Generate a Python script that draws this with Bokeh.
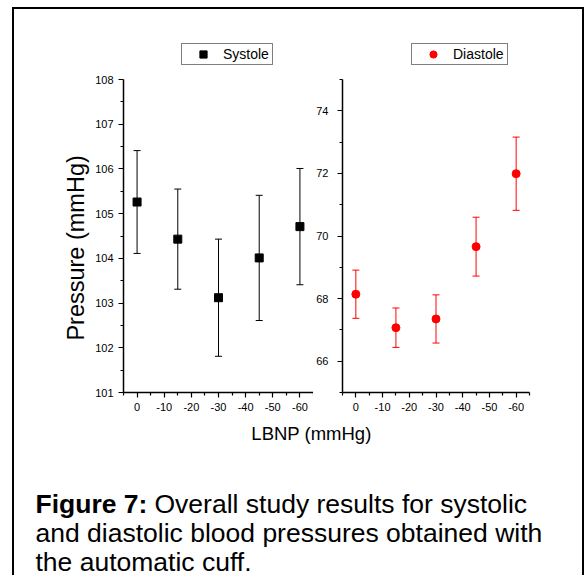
import math

from bokeh.plotting import figure
from bokeh.models import (Range1d, FixedTicker, Whisker, ColumnDataSource,
                          Legend, LegendItem, Label, TeeHead,
                          PrintfTickFormatter)
from bokeh.layouts import row, column
from bokeh.embed import file_html
from bokeh.resources import INLINE

# LBNP levels (mmHg) and blood pressure results (mean and error)
lbnp = [0, -15, -30, -45, -60]
systole_mean = [105.26, 104.43, 103.12, 104.01, 104.71]
systole_err = [1.15, 1.12, 1.31, 1.40, 1.30]
diastole_mean = [68.14, 67.07, 67.35, 69.66, 71.99]
diastole_err = [0.77, 0.63, 0.77, 0.94, 1.17]

# axis ticks
x_ticks = [0, -10, -20, -30, -40, -50, -60]
x_minor = [5, -5, -15, -25, -35, -45, -55, -65]
sys_ticks = [101, 102, 103, 104, 105, 106, 107, 108]
sys_minor = [101.5, 102.5, 103.5, 104.5, 105.5, 106.5, 107.5]
dia_ticks = [66, 68, 70, 72, 74]
dia_minor = [65, 67, 69, 71, 73, 75]

# axis extents
sys_lim = (101, 108)
dia_lim = (65, 75)
lbnp_lim = (5, -65)

FONT = "Liberation Sans"
AXIS_H = 313     # px height of the drawn y axes
HEADROOM = 39    # px of plot area above the axes, where the legends sit
PLOT_H = 409


def padded_range(lo, hi):
    # extend the range upward so the legend fits inside the plot area
    return Range1d(lo, hi + HEADROOM * (hi - lo) / AXIS_H)


def make_source(mean, err):
    return ColumnDataSource(dict(
        x=lbnp, y=mean,
        upper=[m + e for m, e in zip(mean, err)],
        lower=[m - e for m, e in zip(mean, err)],
    ))


def style_axes(p, y_standoff, y_ticks, y_minor, y_lim):
    p.grid.visible = False
    p.outline_line_color = None
    for ax in (p.xaxis[0], p.yaxis[0]):
        ax.axis_line_width = 1.5
        ax.axis_line_color = "black"
        ax.major_tick_in = 0
        ax.major_tick_out = 5
        ax.minor_tick_in = 0
        ax.minor_tick_out = 3
        ax.major_tick_line_width = 1.2
        ax.minor_tick_line_width = 1.2
        ax.major_tick_line_color = "black"
        ax.minor_tick_line_color = "black"
        ax.major_label_text_font = FONT
        ax.major_label_text_font_size = "11px"
        ax.major_label_text_color = "black"
        ax.formatter = PrintfTickFormatter(format="%d")
    p.xaxis[0].major_label_standoff = 5
    p.yaxis[0].major_label_standoff = y_standoff
    p.xaxis[0].ticker = FixedTicker(ticks=x_ticks, minor_ticks=x_minor)
    p.yaxis[0].ticker = FixedTicker(ticks=y_ticks, minor_ticks=y_minor)
    p.yaxis[0].bounds = y_lim


def add_legend(p, renderer, label, x, label_width):
    leg = Legend(items=[LegendItem(label=label, renderers=[renderer])],
                 location=(x, 327), orientation="horizontal",
                 label_text_font=FONT, label_text_font_size="14px",
                 label_text_color="black",
                 border_line_color="black", border_line_width=1,
                 background_fill_color="white", background_fill_alpha=1,
                 padding=1, spacing=0, margin=0,
                 glyph_width=40, glyph_height=18, label_height=17,
                 label_width=label_width, label_standoff=0)
    p.add_layout(leg)


def blank(width, height):
    b = figure(width=width, height=height, output_backend="svg",
               toolbar_location=None,
               x_range=Range1d(0, width), y_range=Range1d(height, 0),
               x_axis_location=None, y_axis_location=None, min_border=0)
    b.grid.visible = False
    b.outline_line_color = None
    return b


# ---- y axis title ----
p0 = blank(76, PLOT_H)
p0.add_layout(Label(x=61, y=241, text="Pressure (mmHg)", angle=math.pi / 2,
                    text_font=FONT, text_font_size="23.5px",
                    text_align="center", text_baseline="middle",
                    text_color="black"))

# ---- systolic panel ----
p1 = figure(width=223, height=PLOT_H, output_backend="svg",
            toolbar_location=None,
            x_range=Range1d(*lbnp_lim), y_range=padded_range(*sys_lim),
            min_border_left=33, min_border_right=0,
            min_border_top=70 - HEADROOM, min_border_bottom=26)
style_axes(p1, 5, sys_ticks, sys_minor, sys_lim)

src_s = make_source(systole_mean, systole_err)
p1.add_layout(Whisker(source=src_s, base="x", upper="upper", lower="lower",
                      line_color="black", line_width=1,
                      upper_head=TeeHead(size=7, line_color="black", line_width=1),
                      lower_head=TeeHead(size=7, line_color="black", line_width=1)))
r_s = p1.scatter("x", "y", source=src_s, marker="square", size=8,
                 color="black")
add_legend(p1, r_s, "Systole", 58, 48)

# ---- diastolic panel ----
p2 = figure(width=269, height=PLOT_H, output_backend="svg",
            toolbar_location=None,
            x_range=Range1d(*lbnp_lim), y_range=padded_range(*dia_lim),
            min_border_left=28, min_border_right=53,
            min_border_top=70 - HEADROOM, min_border_bottom=26)
style_axes(p2, 9, dia_ticks, dia_minor, dia_lim)

src_d = make_source(diastole_mean, diastole_err)
p2.add_layout(Whisker(source=src_d, base="x", upper="upper", lower="lower",
                      line_color="red", line_width=1,
                      upper_head=TeeHead(size=7, line_color="red", line_width=1),
                      lower_head=TeeHead(size=7, line_color="red", line_width=1)))
r_d = p2.scatter("x", "y", source=src_d, marker="circle", size=8,
                 color="red")
add_legend(p2, r_d, "Diastole", 69, 53)

# ---- shared x label and caption ----
p3 = blank(568, 157)
p3.add_layout(Label(x=297, y=15, text="LBNP (mmHg)", text_font=FONT,
                    text_font_size="18.5px", text_align="center",
                    text_baseline="alphabetic", text_color="black"))

cap_size = "26.5px"
p3.add_layout(Label(x=21, y=85, text="Figure 7:", text_font=FONT,
                    text_font_size=cap_size, text_font_style="bold",
                    text_baseline="alphabetic", text_color="black"))
p3.add_layout(Label(x=140, y=85, text="Overall study results for systolic",
                    text_font=FONT, text_font_size=cap_size,
                    text_baseline="alphabetic", text_color="black"))
p3.add_layout(Label(x=21, y=114,
                    text="and diastolic blood pressures obtained with",
                    text_font=FONT, text_font_size=cap_size,
                    text_baseline="alphabetic", text_color="black"))
p3.add_layout(Label(x=21, y=143, text="the automatic cuff.",
                    text_font=FONT, text_font_size=cap_size,
                    text_baseline="alphabetic", text_color="black"))

page = column(row(p0, p1, p2), p3,
              styles={"border-left": "2px solid black",
                      "border-top": "2px solid black",
                      "border-right": "2px solid black",
                      "margin-left": "12px", "margin-top": "7px"})

open("out.html", "w").write(file_html(page, INLINE))
